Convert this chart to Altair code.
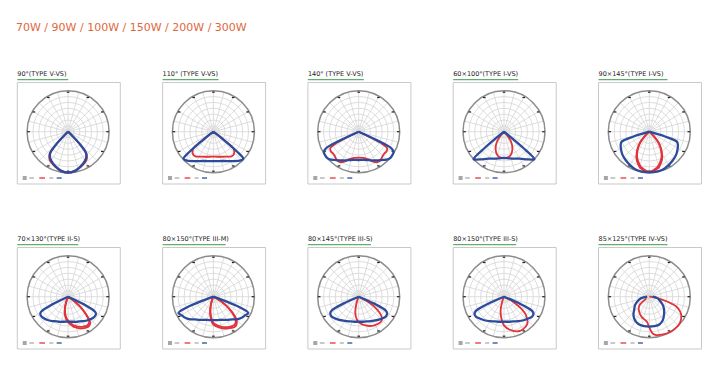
import math
import altair as alt
import pandas as pd

# ---------------- data ----------------
MAIN_TITLE = "70W / 90W / 100W / 150W / 200W / 300W"

PANEL_TITLES = [
    "90°(TYPE  V-VS)", "110° (TYPE  V-VS)", "140° (TYPE V-VS)",
    "60×100°(TYPE  I-VS)", "90×145°(TYPE  I-VS)",
    "70×130°(TYPE  II-S)", "80×150°(TYPE  III-M)", "80×145°(TYPE  III-S)",
    "80×150°(TYPE III-S)", "85×125°(TYPE  IV-VS)",
]

# relative intensity (0..1 of the outer ring) against angle from nadir (deg)
# symmetric series are given for one half and mirrored
P1_BLUE_A = [0, 10, 20, 30, 35, 40, 43, 46, 50]
P1_BLUE_R = [1.0, 0.97, 0.9, 0.82, 0.77, 0.68, 0.45, 0.1, 0]
P1_RED_A = [0, 10, 20, 30, 35, 40, 43, 46, 50]
P1_RED_R = [1.0, 0.97, 0.91, 0.85, 0.8, 0.7, 0.47, 0.1, 0]

P2_BLUE_A = [0, 10, 20, 30, 40, 45, 48, 50, 52, 55]
P2_BLUE_R = [0.72, 0.73, 0.76, 0.83, 0.93, 0.98, 0.98, 0.75, 0.3, 0]
P2_RED_A = [0, 10, 20, 30, 35, 40, 45, 50, 52, 55]
P2_RED_R = [0.61, 0.62, 0.65, 0.7, 0.74, 0.75, 0.72, 0.64, 0.3, 0]

P3_BLUE_A = [0, 10, 20, 30, 40, 45, 50, 55, 60, 63, 65, 68]
P3_BLUE_R = [0.69, 0.7, 0.74, 0.81, 0.9, 0.96, 1.0, 1.0, 0.98, 0.9, 0.5, 0]
P3_RED_A = [0, 10, 20, 25, 30, 35, 40, 45, 50, 55, 60, 63, 66]
P3_RED_R = [0.63, 0.65, 0.72, 0.8, 0.86, 0.88, 0.86, 0.83, 0.82, 0.83, 0.8, 0.6, 0]

P4_BLUE_A = [0, 10, 20, 30, 40, 45, 48, 50, 52]
P4_BLUE_R = [0.64, 0.66, 0.7, 0.76, 0.88, 0.96, 1.0, 0.6, 0]
P4_RED_A = [0, 10, 15, 20, 25, 30, 35, 40, 44]
P4_RED_R = [0.65, 0.63, 0.6, 0.55, 0.48, 0.4, 0.3, 0.15, 0]

P5_BLUE_A = [0, 10, 20, 30, 40, 50, 55, 60, 65, 70, 73, 76]
P5_BLUE_R = [0.99, 0.99, 0.98, 0.94, 0.9, 0.86, 0.83, 0.8, 0.77, 0.72, 0.4, 0]
P5_RED_A = [0, 5, 10, 15, 20, 25, 30, 35, 40, 45, 50]
P5_RED_R = [0.99, 0.97, 0.94, 0.9, 0.82, 0.74, 0.62, 0.5, 0.36, 0.18, 0]
P5_RED2_R = [0.97, 0.95, 0.91, 0.86, 0.78, 0.7, 0.59, 0.47, 0.33, 0.15, 0]

P6_BLUE_A = [0, 10, 20, 30, 40, 50, 55, 58, 61, 64, 67]
P6_BLUE_R = [0.61, 0.62, 0.65, 0.69, 0.75, 0.8, 0.81, 0.8, 0.75, 0.45, 0]
P6_RED_A = [-30, -20, -15, -10, -5, 0, 5, 10, 15, 20, 25, 30, 35, 40, 45, 50, 55, 60]
P6_RED_R = [0, 0.15, 0.32, 0.45, 0.55, 0.62, 0.68, 0.74, 0.78, 0.82, 0.85, 0.87, 0.88, 0.84, 0.65, 0.42, 0.18, 0]
P6_RED2_R = [0, 0.12, 0.28, 0.41, 0.51, 0.58, 0.64, 0.7, 0.74, 0.78, 0.81, 0.83, 0.84, 0.8, 0.61, 0.39, 0.15, 0]

P7_BLUE_A = [0, 10, 20, 30, 40, 45, 50, 55, 60, 65, 68, 71]
P7_BLUE_R = [0.57, 0.58, 0.6, 0.65, 0.72, 0.78, 0.83, 0.87, 0.9, 0.94, 0.7, 0]
P7_RED_A = [-25, -20, -15, -10, -5, 0, 10, 20, 30, 35, 40, 45, 50, 55, 60, 65]
P7_RED_R = [0, 0.15, 0.3, 0.45, 0.58, 0.68, 0.76, 0.83, 0.88, 0.9, 0.88, 0.8, 0.62, 0.4, 0.18, 0]
P7_RED2_R = [0, 0.12, 0.26, 0.4, 0.53, 0.64, 0.72, 0.79, 0.84, 0.86, 0.84, 0.76, 0.58, 0.37, 0.15, 0]

P8_BLUE_A = [0, 10, 20, 30, 40, 50, 55, 60, 63, 66, 69]
P8_BLUE_R = [0.61, 0.62, 0.64, 0.68, 0.74, 0.8, 0.82, 0.8, 0.74, 0.4, 0]
P8_RED_A = [-25, -20, -15, -10, -5, 0, 10, 20, 30, 40, 45, 50, 55, 60, 65]
P8_RED_R = [0, 0.12, 0.3, 0.45, 0.55, 0.62, 0.7, 0.76, 0.8, 0.82, 0.8, 0.72, 0.55, 0.3, 0]

P9_BLUE_A = [0, 10, 20, 30, 40, 50, 55, 60, 63, 66, 69]
P9_BLUE_R = [0.61, 0.62, 0.64, 0.69, 0.75, 0.81, 0.84, 0.83, 0.78, 0.45, 0]
P9_RED_A = [-25, -20, -15, -10, -5, 0, 10, 20, 25, 30, 40, 50, 55, 60, 65]
P9_RED_R = [0, 0.12, 0.3, 0.45, 0.58, 0.7, 0.82, 0.9, 0.92, 0.92, 0.88, 0.7, 0.52, 0.28, 0]

P10_BLUE_A = [-90, -80, -70, -60, -50, -40, -30, -20, -10, 0, 10, 20, 30, 40, 50, 60, 70, 80, 90]
P10_BLUE_R = [0.05, 0.2, 0.3, 0.4, 0.48, 0.6, 0.68, 0.72, 0.73, 0.73, 0.73, 0.72, 0.66, 0.56, 0.47, 0.37, 0.27, 0.2, 0.08]
P10_RED_A = [-60, -50, -45, -40, -30, -20, -10, -5, 0, 5, 10, 20, 30, 40, 50, 60, 65, 70, 75, 80, 85, 90]
P10_RED_R = [0.08, 0.3, 0.36, 0.4, 0.47, 0.53, 0.58, 0.62, 0.75, 0.9, 0.95, 0.98, 1.0, 1.0, 0.98, 0.9, 0.82, 0.7, 0.45, 0.2, 0.06, 0]

# (series name, angles, values, symmetric) per panel
SERIES = [
    [("red", P1_RED_A, P1_RED_R, True), ("blue", P1_BLUE_A, P1_BLUE_R, True)],
    [("red", P2_RED_A, P2_RED_R, True), ("blue", P2_BLUE_A, P2_BLUE_R, True)],
    [("red", P3_RED_A, P3_RED_R, True), ("blue", P3_BLUE_A, P3_BLUE_R, True)],
    [("red", P4_RED_A, P4_RED_R, True), ("blue", P4_BLUE_A, P4_BLUE_R, True)],
    [("red", P5_RED_A, P5_RED_R, True), ("red", P5_RED_A, P5_RED2_R, True),
     ("blue", P5_BLUE_A, P5_BLUE_R, True)],
    [("red", P6_RED_A, P6_RED_R, False), ("red", P6_RED_A, P6_RED2_R, False),
     ("blue", P6_BLUE_A, P6_BLUE_R, True)],
    [("red", P7_RED_A, P7_RED_R, False), ("red", P7_RED_A, P7_RED2_R, False),
     ("blue", P7_BLUE_A, P7_BLUE_R, True)],
    [("red", P8_RED_A, P8_RED_R, False), ("blue", P8_BLUE_A, P8_BLUE_R, True)],
    [("red", P9_RED_A, P9_RED_R, False), ("blue", P9_BLUE_A, P9_BLUE_R, True)],
    [("red", P10_RED_A, P10_RED_R, False), ("blue", P10_BLUE_A, P10_BLUE_R, False)],
]

# ---------------- layout / style ----------------
RED = "#e2323a"
BLUE = "#2c4b9c"
TITLE_COLOR = "#e0673d"
GREEN = "#3d9a4a"
BOX_L0, COL_STEP = 17.3, 145.3
BOX_T0, ROW_STEP = 82.5, 165.0
BOX_W, BOX_H = 103.0, 101.5
CX_OFF, CY_OFF = 50.8, 49.2
R = 41.0
RINGS = 7
UNDERLINE_W = [51, 56, 56, 65, 69, 61, 63, 63, 63, 69]

X = alt.Scale(domain=[8, 716], nice=False, zero=False)
Y = alt.Scale(domain=[8, 360], nice=False, zero=False, reverse=True)


def panel_geom(i):
    col, row = i % 5, i // 5
    left = BOX_L0 + COL_STEP * col
    top = BOX_T0 + ROW_STEP * row
    return left, top, left + CX_OFF, top + CY_OFF


def expand(a, r, sym):
    if sym:
        return [-v for v in reversed(a[1:])] + list(a), list(reversed(r[1:])) + list(r)
    return list(a), list(r)


boxes, titles, rings, spokes, ticks, curves, leg = [], [], [], [], [], [], []
for i in range(10):
    left, top, cx, cy = panel_geom(i)
    boxes.append(dict(x=left, x2=left + BOX_W, y=top, y2=top + BOX_H))
    titles.append(dict(x=left, y=top - 6.5, t=PANEL_TITLES[i], ux2=left + UNDERLINE_W[i], uy=top - 2.8))
    for k in range(1, RINGS + 1):
        rr = R * k / RINGS
        rings.append(dict(x=cx, y=cy, size=(2 * rr) ** 2, outer=(k == RINGS)))
    for k in range(24):
        th = math.radians(k * 15)
        spokes.append(dict(x=cx, y=cy, x2=cx + R * math.sin(th), y2=cy + R * math.cos(th)))
    for k in range(12):
        th = math.radians(k * 30)
        px, py = cx + (R - 1.5) * math.sin(th), cy - (R - 1.5) * math.cos(th)
        ticks.append(dict(x=px - 1.3, x2=px + 1.3, y=py))
    for j, (name, a, r, sym) in enumerate(SERIES[i]):
        aa, vv = expand(a, r, sym)
        for k, (ang, val) in enumerate(zip(aa, vv)):
            th = math.radians(ang)
            curves.append(dict(key=f"{i}-{j}", series=name, k=k,
                               x=cx + val * R * math.sin(th), y=cy + val * R * math.cos(th)))
    ly = top + BOX_H - 6
    leg += [
        dict(x=left + 5.4, x2=left + 9.4, y=ly - 1, c="#222222", w=0.8),
        dict(x=left + 5.4, x2=left + 9.4, y=ly + 1, c="#222222", w=0.8),
        dict(x=left + 12, x2=left + 16.7, y=ly, c="#777777", w=0.8),
        dict(x=left + 22, x2=left + 27.7, y=ly, c=RED, w=1.3),
        dict(x=left + 32, x2=left + 36, y=ly, c="#777777", w=0.8),
        dict(x=left + 39.4, x2=left + 44.4, y=ly, c=BLUE, w=1.3),
    ]

df_curves = pd.DataFrame(curves)

main_title = alt.Chart(pd.DataFrame([dict(x=16, y=30.5, t=MAIN_TITLE)])).mark_text(
    align="left", baseline="alphabetic", font="DejaVu Sans", fontSize=11, color=TITLE_COLOR
).encode(x=alt.X("x:Q", scale=X, axis=None), y=alt.Y("y:Q", scale=Y, axis=None), text="t:N")

box_layer = alt.Chart(pd.DataFrame(boxes)).mark_rect(
    fill="white", stroke="#c9c9c9", strokeWidth=1
).encode(x=alt.X("x:Q", scale=X, axis=None), x2="x2:Q", y=alt.Y("y:Q", scale=Y, axis=None), y2="y2:Q")

title_layer = alt.Chart(pd.DataFrame(titles)).mark_text(
    align="left", baseline="alphabetic", font="DejaVu Sans", fontSize=6.5, color="#222222"
).encode(x=alt.X("x:Q", scale=X, axis=None), y=alt.Y("y:Q", scale=Y, axis=None), text="t:N")

underline_layer = alt.Chart(pd.DataFrame(titles)).mark_rule(color=GREEN, strokeWidth=1).encode(
    x=alt.X("x:Q", scale=X, axis=None), x2="ux2:Q", y=alt.Y("uy:Q", scale=Y, axis=None))

df_rings = pd.DataFrame(rings)
ring_layer = alt.Chart(df_rings[~df_rings.outer]).mark_point(
    shape="circle", filled=False, stroke="#d4d4d4", strokeWidth=0.8, opacity=1
).encode(x=alt.X("x:Q", scale=X, axis=None), y=alt.Y("y:Q", scale=Y, axis=None),
         size=alt.Size("size:Q", scale=None, legend=None))

spoke_layer = alt.Chart(pd.DataFrame(spokes)).mark_rule(color="#d4d4d4", strokeWidth=0.8).encode(
    x=alt.X("x:Q", scale=X, axis=None), x2="x2:Q", y=alt.Y("y:Q", scale=Y, axis=None), y2="y2:Q")

outer_layer = alt.Chart(df_rings[df_rings.outer]).mark_point(
    shape="circle", filled=False, stroke="#8c8c8c", strokeWidth=1.5, opacity=1
).encode(x=alt.X("x:Q", scale=X, axis=None), y=alt.Y("y:Q", scale=Y, axis=None),
         size=alt.Size("size:Q", scale=None, legend=None))

tick_layer = alt.Chart(pd.DataFrame(ticks)).mark_rule(color="#222222", strokeWidth=1.2).encode(
    x=alt.X("x:Q", scale=X, axis=None), x2="x2:Q", y=alt.Y("y:Q", scale=Y, axis=None))


def curve_layer(name, color, width):
    return alt.Chart(df_curves[df_curves.series == name]).mark_line(
        color=color, strokeWidth=width, interpolate="catmull-rom", strokeJoin="round"
    ).encode(x=alt.X("x:Q", scale=X, axis=None), y=alt.Y("y:Q", scale=Y, axis=None),
             detail="key:N", order="k:Q")


leg_layer = alt.Chart(pd.DataFrame(leg)).mark_rule().encode(
    x=alt.X("x:Q", scale=X, axis=None), x2="x2:Q", y=alt.Y("y:Q", scale=Y, axis=None),
    color=alt.Color("c:N", scale=None), strokeWidth=alt.StrokeWidth("w:Q", scale=None))

chart = alt.layer(
    main_title, box_layer, title_layer, underline_layer, ring_layer, spoke_layer, outer_layer,
    tick_layer, curve_layer("red", RED, 1.8), curve_layer("blue", BLUE, 2.3), leg_layer
).properties(width=708, height=352, padding=0, autosize="none").configure_view(stroke=None)

chart.save("out.html", embed_options={"renderer": "svg", "actions": False})
